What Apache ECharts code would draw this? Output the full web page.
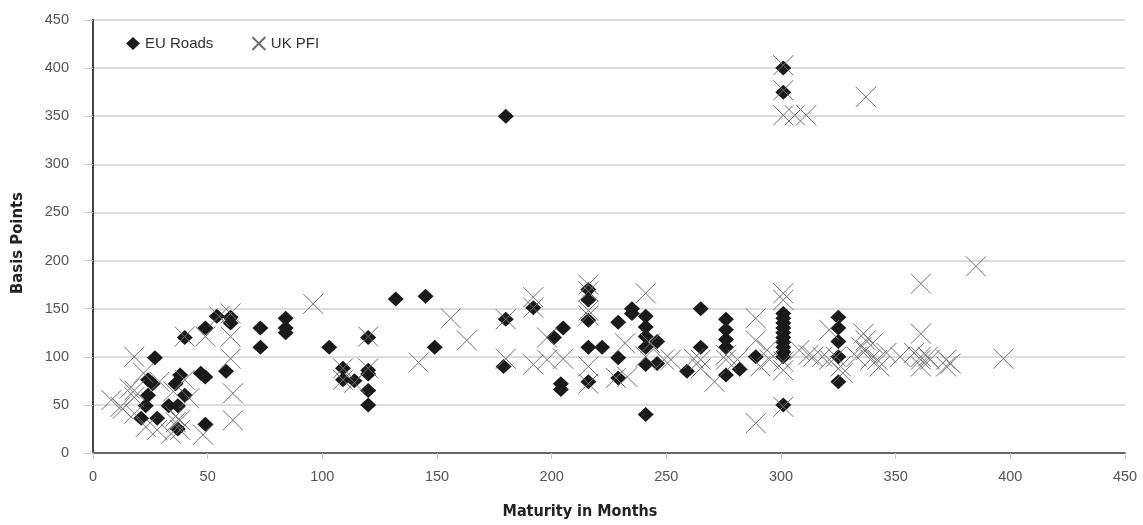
<!DOCTYPE html>
<html>
<head>
<meta charset="utf-8">
<script src="https://cdn.jsdelivr.net/npm/echarts@6/dist/echarts.min.js"></script>
<style>
html,body{margin:0;padding:0;background:#fff;}
#chart{width:1143px;height:525px;}
</style>
</head>
<body>
<div id="chart"></div>
<script>
// ---- Data ----
const seriesNames = ['EU Roads', 'UK PFI'];
const axisTicks = [0, 50, 100, 150, 200, 250, 300, 350, 400, 450];

const euRoadsMonths = [21,23,24,24,26,27,28,33,36,37,37,38,40,40,47,49,49,49,54,58,60,60,73,73,84,84,84,
  103,109,109,114,120,120,120,120,120,132,145,149,180,180,179,192,201,205,204,204,216,216,216,216,222,216,
  229,229,229,235,235,241,241,241,241,246,241,246,241,259,265,265,276,276,276,276,276,282,289,
  301,301,301,301,301,301,301,301,301,301,301,301,301,325,325,325,325,325];
const euRoadsBps = [36,49,60,76,72,99,36,49,72,49,25,81,60,120,83,79,30,130,142,85,141,135,130,110,140,130,125,
  110,88,76,75,120,86,82,65,50,160,163,110,350,139,90,151,120,130,72,66,170,159,138,110,110,74,
  136,99,78,150,145,142,131,121,110,116,92,93,40,85,150,110,139,128,118,110,81,87,100,
  400,375,145,140,135,130,125,120,115,110,105,100,50,141,130,116,100,74];

const ukPfiMonths = [8,12,13,16,18,18,18,18,22,23,28,29,34,36,36,38,38,35,40,40,42,48,49,55,60,60,60,61,61,
  96,109,109,114,120,120,142,156,163,180,180,192,192,192,198,198,205,216,216,216,216,216,216,228,232,233,
  241,243,241,249,252,262,265,265,271,276,276,281,289,289,289,291,294,295,
  301,301,301,306,311,301,301,301,301,301,308,312,314,318,321,321,324,326,327,333,335,340,
  336,337,337,337,339,342,343,346,352,358,361,361,361,361,361,364,365,372,374,372,385,397];
const ukPfiBps = [55,48,46,67,100,65,41,58,83,27,24,74,20,32,38,24,34,64,76,121,57,19,121,142,145,121,98,62,34,
  155,88,76,73,121,88,94,140,117,139,98,162,151,92,120,97,98,175,168,148,143,90,72,78,114,79,
  166,114,100,97,97,98,97,88,74,102,97,97,140,117,31,90,107,97,
  403,377,351,351,351,166,159,95,86,48,107,102,100,100,128,97,100,90,83,100,110,114,
  124,370,117,107,97,97,90,104,100,104,176,124,100,97,90,100,97,97,93,90,194,98];

function pairs(xs, ys) { return xs.map((x, i) => [x, ys[i]]); }

const labelFont = "'Liberation Sans', Arial, sans-serif";
const titleFont = "'Liberation Sans Narrow', 'DejaVu Sans Condensed', 'Liberation Sans', sans-serif";

const chart = echarts.init(document.getElementById('chart'), null, {renderer: 'canvas'});
chart.setOption({
  animation: false,
  backgroundColor: '#ffffff',
  grid: {left: 93, right: 18, top: 20, bottom: 72, containLabel: false},
  legend: {
    left: 121, top: 31,
    itemWidth: 14, itemHeight: 13, itemGap: 38,
    textStyle: {fontFamily: labelFont, fontSize: 15, color: '#333'},
    data: seriesNames
  },
  xAxis: {
    type: 'value', min: axisTicks[0], max: axisTicks[axisTicks.length - 1], interval: 50,
    name: 'Maturity in Months', nameLocation: 'middle', nameGap: 51,
    nameTextStyle: {fontFamily: titleFont, fontWeight: 'bold', fontSize: 16, color: '#222', padding: [0, 58, 0, 0]},
    axisLine: {show: true, onZero: false, lineStyle: {color: '#666', width: 2}},
    axisTick: {show: true, length: 6, lineStyle: {color: '#c8c8c8'}},
    axisLabel: {margin: 16, fontFamily: labelFont, fontSize: 14.5, color: '#555'},
    splitLine: {show: false}
  },
  yAxis: [{
    type: 'value', min: axisTicks[0], max: axisTicks[axisTicks.length - 1], interval: 50,
    name: 'Basis Points', nameLocation: 'middle', nameGap: 67,
    nameTextStyle: {fontFamily: titleFont, fontWeight: 'bold', fontSize: 16.5, color: '#222', padding: [0, 13, 0, 0]},
    axisLine: {show: true, onZero: false, lineStyle: {color: '#555', width: 2}},
    axisTick: {show: true, length: 9, lineStyle: {color: '#c8c8c8'}},
    axisLabel: {margin: 24, fontFamily: labelFont, fontSize: 14.5, color: '#555'},
    splitLine: {show: true, lineStyle: {color: '#d2d2d2', width: 1.5}}
  }, {
    type: 'value', position: 'right', min: 0, max: 450, interval: 50,
    axisLine: {show: true, lineStyle: {color: '#444', width: 2}},
    axisTick: {show: false}, axisLabel: {show: false}, splitLine: {show: false}
  }],
  series: [{
    name: seriesNames[0], type: 'scatter', yAxisIndex: 0,
    symbol: 'diamond', symbolSize: [16, 15],
    itemStyle: {color: '#1a1a1a', opacity: 1},
    data: pairs(euRoadsMonths, euRoadsBps)
  }, {
    name: seriesNames[1], type: 'scatter', yAxisIndex: 0,
    symbol: 'path://M0,0L20,20M20,0L0,20', symbolSize: [20, 20],
    itemStyle: {color: 'rgba(0,0,0,0)', borderColor: '#707070', borderWidth: 1, opacity: 1},
    data: pairs(ukPfiMonths, ukPfiBps)
  }]
});
</script>
</body>
</html>
